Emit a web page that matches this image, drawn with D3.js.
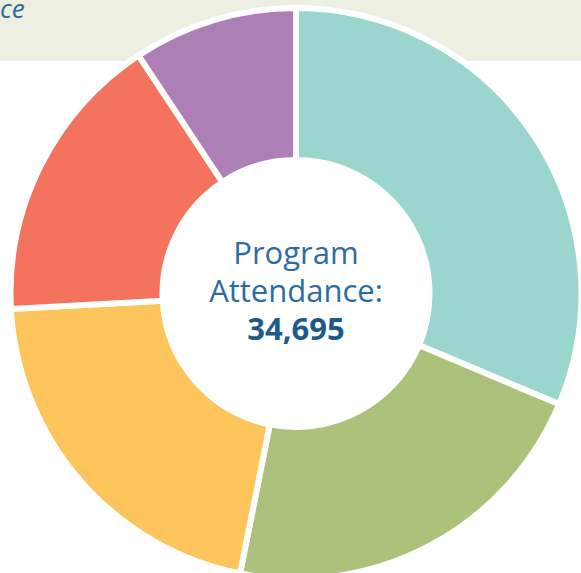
<!DOCTYPE html>
<html>
<head>
<meta charset="utf-8">
<script src="https://cdn.jsdelivr.net/npm/d3@7"></script>
<style>
  body { margin: 0; background: #fff; }
  svg { display: block; font-family: "Open Sans", sans-serif; }
</style>
</head>
<body>
<div id="chart"></div>
<script>
// attendance by segment (clockwise from 12 o'clock)
const segments = ['Segment A', 'Segment B', 'Segment C', 'Segment D', 'Segment E'];
const attendance = [10873, 7564, 7286, 5745, 3227];
const colors = ['#9AD6CE', '#ACC27A', '#FEC55C', '#F3735F', '#AD7FB7'];

const totalLabel = ['Program', 'Attendance:'];
const total = d3.sum(attendance);

const width = 581, height = 573;
const cx = 296, cy = 293.5;

const svg = d3.select('#chart').append('svg')
  .attr('width', width)
  .attr('height', height);

// header band (cropped title)
svg.append('rect')
  .attr('x', 0).attr('y', 0)
  .attr('width', width).attr('height', 61)
  .attr('fill', '#EDEFE2');

svg.append('text')
  .attr('x', 0).attr('y', 17.5)
  .attr('font-size', 26)
  .attr('font-style', 'italic')
  .attr('fill', '#2B6CA3')
  .text('ce');

const pie = d3.pie().sort(null).value(d => d);
const arc = d3.arc().innerRadius(133.5).outerRadius(285.5);

const g = svg.append('g').attr('transform', `translate(${cx},${cy})`);

g.selectAll('path')
  .data(pie(attendance))
  .join('path')
  .attr('d', arc)
  .attr('fill', (d, i) => colors[i])
  .attr('stroke', '#fff')
  .attr('stroke-width', 6)
  .attr('stroke-linejoin', 'miter');

// centre label
g.selectAll('text.lbl')
  .data(totalLabel)
  .join('text')
  .attr('class', 'lbl')
  .attr('text-anchor', 'middle')
  .attr('y', (d, i) => -29.2 + i * 37.4)
  .attr('font-size', 31)
  .attr('font-weight', 400)
  .attr('fill', '#2B6CA3')
  .text(d => d);

g.append('text')
  .attr('text-anchor', 'middle')
  .attr('y', 46.5)
  .attr('font-size', 31)
  .attr('font-weight', 700)
  .attr('fill', '#1C5A8E')
  .text(d3.format(',')(total));
</script>
</body>
</html>
